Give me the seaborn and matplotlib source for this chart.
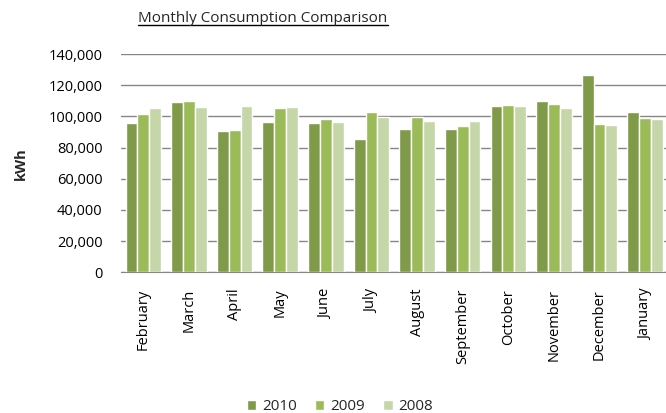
import pandas as pd
import seaborn as sns
import matplotlib.pyplot as plt
from matplotlib.lines import Line2D
from matplotlib.ticker import FuncFormatter

months = ['February', 'March', 'April', 'May', 'June', 'July', 'August',
          'September', 'October', 'November', 'December', 'January']
years = ['2010', '2009', '2008']
kwh_2010 = [95500, 109400, 90600, 96300, 95500, 85400, 92100, 91700, 106800, 110200, 126500, 102900]
kwh_2009 = [101500, 109800, 91200, 105300, 98500, 102800, 99800, 94000, 107400, 107900, 95300, 99100]
kwh_2008 = [105100, 105800, 106800, 106000, 96300, 99800, 97200, 97200, 106600, 105500, 94600, 98500]

df = pd.DataFrame({'month': months * 3,
                   'year': ['2010'] * 12 + ['2009'] * 12 + ['2008'] * 12,
                   'kwh': kwh_2010 + kwh_2009 + kwh_2008})

sns.set_style('white')
plt.rcParams['font.family'] = ['Open Sans', 'DejaVu Sans']

fig = plt.figure(figsize=(6.66, 4.13), dpi=100)
ax = fig.add_axes([0.181, 0.341, 0.822, 0.528])

colors = ['#7f9a48', '#9bbb59', '#c5d6a9']
sns.barplot(data=df, x='month', y='kwh', hue='year', hue_order=years,
            order=months, palette=colors, saturation=1, width=0.78,
            edgecolor='white', linewidth=1, ax=ax, zorder=3)

ax.set_ylim(0, 140000)
ax.set_yticks(range(0, 140001, 20000))
ax.yaxis.set_major_formatter(FuncFormatter(lambda v, p: f'{int(v):,}'))
ax.grid(axis='y', color='#868686', linewidth=1, zorder=0)
ax.set_axisbelow(True)
for s in ['top', 'right', 'left']:
    ax.spines[s].set_visible(False)
ax.spines['bottom'].set_color('#868686')
ax.tick_params(axis='both', length=0, labelsize=10.5, colors='black')
ax.tick_params(axis='y', pad=13)
ax.tick_params(axis='x', pad=12)
plt.setp(ax.get_xticklabels(), rotation=90)
ax.set_xlabel('')
ax.set_ylabel('kWh', fontsize=10.5, fontweight='bold')
ax.yaxis.set_label_coords(-0.17, 0.5)

leg = ax.legend(loc='center', bbox_to_anchor=(340 / 666, 6 / 413),
                bbox_transform=fig.transFigure, ncol=3, frameon=False,
                fontsize=11, handlelength=0.6, handleheight=0.6,
                handletextpad=0.4, columnspacing=1.2)

t = fig.text(263 / 666, 1 - 18 / 413, 'Monthly Consumption Comparison',
             ha='center', va='center', fontsize=11)
fig.canvas.draw()
bb = t.get_window_extent().transformed(fig.transFigure.inverted())
fig.add_artist(Line2D([bb.x0, bb.x1], [bb.y0 + 0.002, bb.y0 + 0.002],
                      color='black', linewidth=1, transform=fig.transFigure))

fig.savefig('out.png', dpi=100)
